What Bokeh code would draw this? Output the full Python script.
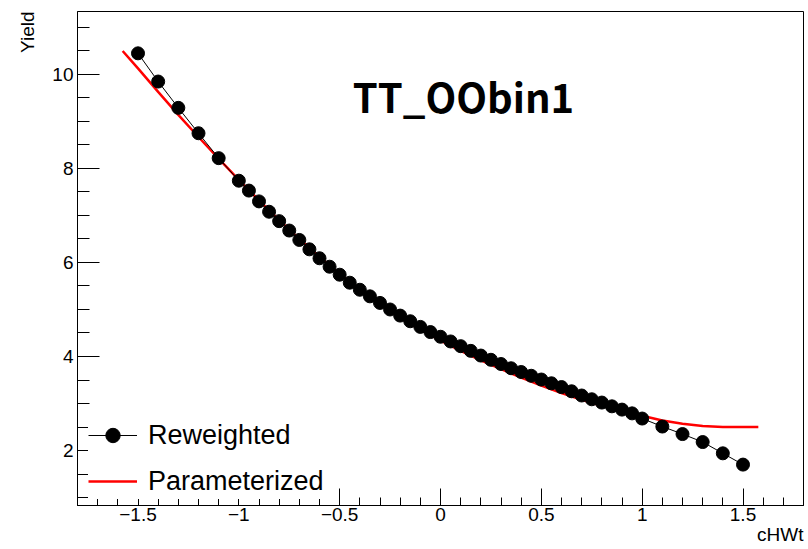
from bokeh.plotting import figure
from bokeh.models import (Range1d, SingleIntervalTicker, CustomJSTickFormatter,
                          Label, Legend, LegendItem, Title)
from bokeh.embed import file_html
from bokeh.resources import INLINE

# ---- data ----
rw_x = [-1.5, -1.4, -1.3, -1.2, -1.1,
        -1.0, -0.95, -0.9, -0.85, -0.8, -0.75, -0.7, -0.65, -0.6, -0.55,
        -0.5, -0.45, -0.4, -0.35, -0.3, -0.25, -0.2, -0.15, -0.1, -0.05,
        0.0, 0.05, 0.1, 0.15, 0.2, 0.25, 0.3, 0.35, 0.4, 0.45,
        0.5, 0.55, 0.6, 0.65, 0.7, 0.75, 0.8, 0.85, 0.9, 0.95, 1.0,
        1.1, 1.2, 1.3, 1.4, 1.5]
rw_y = [10.45, 9.85, 9.29, 8.75, 8.22,
        7.74, 7.53, 7.30, 7.08, 6.88, 6.68, 6.48, 6.28, 6.09, 5.91,
        5.74, 5.57, 5.42, 5.28, 5.14, 5.00, 4.87, 4.75, 4.63, 4.52,
        4.42, 4.32, 4.22, 4.12, 4.02, 3.93, 3.84, 3.75, 3.67, 3.59,
        3.51, 3.43, 3.35, 3.26, 3.17, 3.09, 3.02, 2.94, 2.87, 2.79, 2.68,
        2.51, 2.35, 2.18, 1.94, 1.70]

par_x = [-1.576, -1.5, -1.4, -1.3, -1.2, -1.1, -1.0, -0.9, -0.8, -0.7, -0.6,
         -0.5, -0.4, -0.3, -0.2, -0.1, 0.0, 0.1, 0.2, 0.3, 0.4, 0.5, 0.6,
         0.7, 0.8, 0.9, 1.0, 1.1, 1.2, 1.3, 1.4, 1.5, 1.576]
par_y = [10.50, 10.13, 9.63, 9.14, 8.67, 8.21, 7.76, 7.32, 6.90, 6.50, 6.12,
         5.76, 5.42, 5.11, 4.82, 4.57, 4.34, 4.12, 3.92, 3.73, 3.55, 3.38, 3.22,
         3.08, 2.95, 2.84, 2.74, 2.64, 2.57, 2.52, 2.50, 2.50, 2.50]

title_text = "TT_OObin1"
x_title = "cHWt"
y_title = "Yield"
legend_labels = ["Reweighted", "Parameterized"]

X0, X1 = -1.8, 1.8
Y0, Y1 = 0.83, 11.34

p = figure(width=808, height=549, output_backend="svg", toolbar_location=None,
           x_range=Range1d(X0, X1), y_range=Range1d(Y0, Y1),
           min_border_left=77, min_border_right=5, min_border_top=11,
           min_border_bottom=44)
p.background_fill_color = "white"
p.border_fill_color = "white"
p.outline_line_color = "black"
p.outline_line_width = 1
p.xgrid.visible = False
p.ygrid.visible = False

fmt = CustomJSTickFormatter(code="""
const a = Math.round(Math.abs(tick)*100)/100;
return (tick < -1e-9 ? "\u2212" : "") + a.toString();
""")

p.xaxis.ticker = SingleIntervalTicker(interval=0.5, num_minor_ticks=5)
p.yaxis.ticker = SingleIntervalTicker(interval=2, num_minor_ticks=4)
for ax in (p.xaxis, p.yaxis):
    ax.formatter = fmt
    ax.axis_line_color = "black"
    ax.axis_line_width = 1
    ax.major_tick_out = 0
    ax.minor_tick_out = 0
    ax.major_tick_line_color = "black"
    ax.minor_tick_line_color = "black"
    ax.major_label_text_font = "Liberation Sans"
    ax.major_label_text_font_size = "19px"
    ax.major_label_text_color = "black"
p.xaxis.major_label_standoff = 2
p.yaxis.major_label_standoff = 4
p.xaxis.major_tick_in = 17
p.xaxis.minor_tick_in = 8
p.yaxis.major_tick_in = 22
p.yaxis.minor_tick_in = 12

p.add_layout(Title(text=x_title, align="right", text_font="Liberation Sans",
                   text_font_size="19px", text_font_style="normal",
                   text_color="black", standoff=-3, offset=0), "below")
p.add_layout(Title(text=y_title, align="right", text_font="Liberation Sans",
                   text_font_size="19px", text_font_style="normal",
                   text_color="black", standoff=24, offset=0), "left")

par_r = p.line(par_x, par_y, line_color="#ff0000", line_width=2.5)
rw_line = p.line(rw_x, rw_y, line_color="black", line_width=1)
rw_pts = p.scatter(rw_x, rw_y, marker="circle", size=13, fill_color="black",
                   line_color="black")

legend = Legend(items=[LegendItem(label=legend_labels[0], renderers=[rw_line, rw_pts]),
                       LegendItem(label=legend_labels[1], renderers=[par_r])],
                location=(11, 6), padding=0, spacing=10,
                glyph_width=49, glyph_height=36, label_height=36,
                label_standoff=11, label_text_font="Liberation Sans",
                label_text_font_size="27px", label_text_color="black",
                background_fill_color="white", background_fill_alpha=1.0,
                border_line_color=None, margin=0)
p.add_layout(legend, "center")

p.add_layout(Label(x=0.114, y=9.535, text=title_text, text_align="center",
                   text_baseline="alphabetic", text_font="Noto Sans CJK SC",
                   text_font_style="bold", text_font_size="40px", text_color="black"))

open("out.html", "w").write(file_html(p, INLINE))
